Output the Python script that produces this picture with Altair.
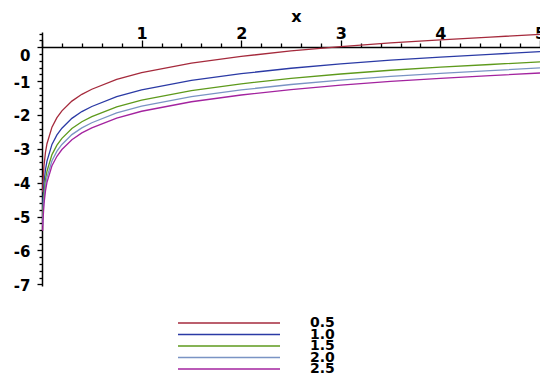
import altair as alt
import pandas as pd

# ---- data ----
x_vals = [0.0065, 0.01, 0.02, 0.035, 0.05, 0.1, 0.15, 0.2, 0.3, 0.4, 0.5, 0.75,
          1.0, 1.5, 2.0, 2.5, 3.0, 3.5, 4.0, 4.5, 5.0]
series_names = ["0.5", "1.0", "1.5", "2.0", "2.5"]
y_05 = [-4.28, -3.97, -3.49, -3.10, -2.85, -2.36, -2.08, -1.88, -1.59, -1.39, -1.24, -0.95,
        -0.75, -0.47, -0.27, -0.11, 0.02, 0.13, 0.22, 0.30, 0.38]
y_10 = [-4.79, -4.48, -4.00, -3.61, -3.36, -2.87, -2.59, -2.39, -2.10, -1.90, -1.75, -1.46,
        -1.26, -0.98, -0.78, -0.62, -0.49, -0.38, -0.29, -0.21, -0.13]
y_15 = [-5.09, -4.78, -4.30, -3.91, -3.66, -3.17, -2.89, -2.69, -2.40, -2.20, -2.05, -1.76,
        -1.56, -1.28, -1.08, -0.92, -0.79, -0.68, -0.59, -0.51, -0.43]
y_20 = [-5.27, -4.96, -4.48, -4.09, -3.84, -3.35, -3.07, -2.87, -2.58, -2.38, -2.23, -1.94,
        -1.74, -1.46, -1.26, -1.10, -0.97, -0.86, -0.77, -0.69, -0.61]
y_25 = [-5.42, -5.11, -4.63, -4.24, -3.99, -3.50, -3.22, -3.02, -2.73, -2.53, -2.38, -2.09,
        -1.89, -1.61, -1.41, -1.25, -1.12, -1.01, -0.92, -0.84, -0.76]
colors = ["#a52a3c", "#2b3aa5", "#5e9a1c", "#7a94c4", "#a3239f"]

x_ticks = [round(i * 0.2, 1) for i in range(0, 26)]
y_ticks = [round(-7 + i * 0.2, 1) for i in range(0, 38)]

rows = []
for name, ys in zip(series_names, [y_05, y_10, y_15, y_20, y_25]):
    for xv, yv in zip(x_vals, ys):
        rows.append({"x": xv, "y": yv, "series": name})
df = pd.DataFrame(rows)
legend_df = pd.DataFrame({"series": series_names})

FONT = "DejaVu Sans"
is_int = "abs(datum.value - round(datum.value)) < 0.001"

color_scale = alt.Scale(domain=series_names, range=colors)

x_axis = alt.Axis(
    orient="top", offset=-15, values=x_ticks, grid=False,
    labelExpr=f"({is_int}) && datum.value > 0.5 ? format(datum.value, 'd') : ''",
    tickSize={"condition": {"test": is_int, "value": 7}, "value": 4},
    tickColor="black", tickWidth=1.3, domainColor="black", domainWidth=1.5,
    labelFont=FONT, labelFontSize=16, labelFontWeight="bold", labelColor="black",
    labelPadding=-1, labelOverlap=False, labelBound=False, labelFlush=False,
    title="x", titleFont=FONT, titleFontSize=16, titleFontWeight="bold",
    titleColor="black", titleY=-31, titleX=254, titleBaseline="middle",
)
y_axis = alt.Axis(
    orient="left", values=y_ticks, grid=False,
    labelExpr=f"({is_int}) ? (datum.value < -0.5 ? '-' + format(abs(datum.value), 'd') : '0') : ''",
    tickSize={"condition": {"test": is_int, "value": 5}, "value": 3},
    labelOffset={"condition": {"test": "abs(datum.value) < 0.001", "value": 8}, "value": 1},
    tickColor="black", tickWidth=1.3, domainColor="black", domainWidth=1.5,
    labelFont=FONT, labelFontSize=15, labelFontWeight="bold", labelColor="black",
    labelPadding=7, labelOverlap=False, labelBound=False, title=None,
)

lines = alt.Chart(df).mark_line(strokeWidth=1.3).encode(
    x=alt.X("x:Q", scale=alt.Scale(domain=[0, 5], nice=False, zero=False), axis=x_axis),
    y=alt.Y("y:Q", scale=alt.Scale(domain=[-7.05, 0.45], nice=False, zero=False), axis=y_axis),
    color=alt.Color("series:N", scale=color_scale, legend=None),
    detail="series:N",
)

leg_y = alt.Y("series:N",
              scale=alt.Scale(type="point", domain=series_names, range=[291, 337], padding=0),
              axis=None)
leg_lines = alt.Chart(legend_df).mark_rule(strokeWidth=1.3).encode(
    y=leg_y, x=alt.value(136), x2=alt.value(238),
    color=alt.Color("series:N", scale=color_scale, legend=None),
)
leg_text = alt.Chart(legend_df).mark_text(
    align="left", baseline="middle", font=FONT, fontSize=14, fontWeight="bold", color="black"
).encode(y=leg_y, x=alt.value(268), text="series:N")

chart = alt.layer(lines, leg_lines, leg_text).resolve_scale(y="independent").properties(
    width=498, height=254,
    autosize=alt.AutoSizeParams(type="none"),
    padding={"left": 34, "top": 24, "right": 0, "bottom": 93},
).configure_view(stroke=None)

chart.save("out.html", embed_options={"renderer": "svg", "actions": False})
